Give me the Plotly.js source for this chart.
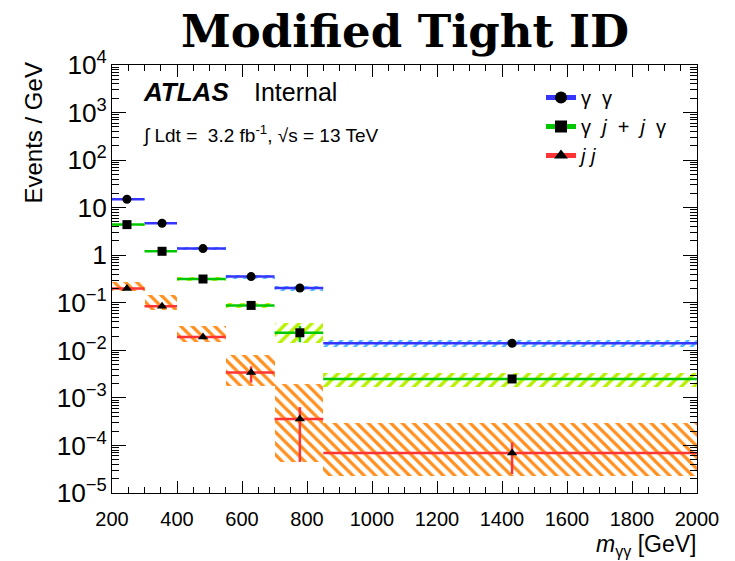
<!DOCTYPE html>
<html>
<head>
<meta charset="utf-8">
<script src="https://cdn.plot.ly/plotly-3.0.1.min.js"></script>
<style>html,body{margin:0;padding:0;background:#fff;}#chart{width:735px;height:561px;}</style>
</head>
<body>
<div id="chart"></div>
<script>
// Bin edges (GeV)
var binEdges = [200, 300, 400, 550, 700, 850, 2000];
// Marker positions (mean mass in bin)
var markerX = [246, 354, 480, 628, 778, 1431];

// gamma gamma
var ggVal = [15, 4.7, 1.38, 0.355, 0.204, 0.0141];
var ggStatUp = [0.3, 0.15, 0.06, 0.025, 0.02, 0.0013];
var ggStatDn = [0.3, 0.15, 0.06, 0.025, 0.02, 0.0013];
var ggSysLo = [14.4, 4.5, 1.3, 0.32, 0.18, 0.0118];
var ggSysHi = [15.6, 4.9, 1.46, 0.39, 0.23, 0.0168];

// gamma j + j gamma
var gjVal = [4.4, 1.21, 0.316, 0.088, 0.0234, 0.0025];
var gjStatUp = [0.15, 0.06, 0.025, 0.012, 0.009, 0.0003];
var gjStatDn = [0.15, 0.06, 0.025, 0.012, 0.0086, 0.0003];
var gjSysLo = [4.2, 1.15, 0.29, 0.077, 0.0142, 0.0017];
var gjSysHi = [4.6, 1.27, 0.345, 0.101, 0.037, 0.0034];

// j j
var jjVal = [0.2, 0.085, 0.019, 0.0034, 0.00036, 0.000069];
var jjStatUp = [0.005, 0.004, 0.001, 0.0012, 0.00028, 0.000046];
var jjStatDn = [0.005, 0.004, 0.001, 0.0013, 0.000315, 0.000044];
var jjSysLo = [0.174, 0.069, 0.0149, 0.0018, 0.000044, 0.000023];
var jjSysHi = [0.273, 0.144, 0.033, 0.0081, 0.00196, 0.0003];

var legendNames = ['\u03B3\u00A0\u00A0\u03B3',
  '\u03B3\u00A0\u00A0<i>j</i>\u00A0\u00A0+\u00A0\u00A0<i>j</i>\u00A0\u00A0\u03B3',
  '<i>j\u00A0j</i>'];

var centers = [], widths = [];
for (var i = 0; i < binEdges.length - 1; i++) {
  centers.push((binEdges[i] + binEdges[i+1]) / 2);
  widths.push(binEdges[i+1] - binEdges[i]);
}
function sub(a, b) { return a.map(function(v, i){ return v - b[i]; }); }
var exPlus = markerX.map(function(x, i){ return binEdges[i+1] - x; });
var exMinus = markerX.map(function(x, i){ return x - binEdges[i]; });

function band(lo, hi, color, shape, size, sol) {
  return {
    type: 'bar', x: centers, y: sub(hi, lo), base: lo, width: widths,
    showlegend: false, hoverinfo: 'skip',
    marker: {color: 'rgba(0,0,0,0)', line: {width: 0},
      pattern: {shape: shape, fgcolor: color, fgopacity: 1, bgcolor: 'rgba(0,0,0,0)', size: size, solidity: sol, fillmode: 'overlay'}}
  };
}
function pts(vals, up, dn, color, symbol) {
  return {
    type: 'scatter', mode: 'markers', x: markerX, y: vals, showlegend: false,
    marker: {color: 'black', symbol: symbol, size: 9},
    error_x: {type: 'data', symmetric: false, array: exPlus, arrayminus: exMinus, color: color, thickness: 2.5, width: 0},
    error_y: {type: 'data', symmetric: false, array: up, arrayminus: dn, color: color, thickness: 2.5, width: 0}
  };
}
function leg(name, color, symbol) {
  return {type: 'scatter', mode: 'lines+markers', x: [null], y: [null], name: name,
    line: {color: color, width: 2.5}, marker: {color: 'black', symbol: symbol, size: 9}};
}

var cBlue = '#3535ff', cGreen = '#00c800', cRed = '#ff3535';
var data = [
  band(ggSysLo, ggSysHi, '#4ab8ff', '/', 7, 0.4),
  band(gjSysLo, gjSysHi, '#b8f000', '/', 9, 0.38),
  band(jjSysLo, jjSysHi, '#ff9020', '\\', 8, 0.4),
  pts(ggVal, ggStatUp, ggStatDn, cBlue, 'circle'),
  pts(gjVal, gjStatUp, gjStatDn, cGreen, 'square'),
  pts(jjVal, jjStatUp, jjStatDn, cRed, 'triangle-up'),
  leg(legendNames[0], cBlue, 'circle'),
  leg(legendNames[1], cGreen, 'square'),
  leg(legendNames[2], cRed, 'triangle-up')
];

var L = 112, R = 697, T = 65, B = 493;
function px(x){ return (x - L) / (R - L); }
function py(y){ return (B - y) / (B - T); }
var font = 'Liberation Sans, Arial, Helvetica, sans-serif';

var layout = {
  width: 735, height: 561,
  margin: {l: L, r: 735 - R, t: T, b: 561 - B, pad: 0},
  paper_bgcolor: 'white', plot_bgcolor: 'white',
  barmode: 'overlay', bargap: 0,
  font: {family: font, color: 'black', size: 20},
  title: {text: '<b>Modified Tight ID</b>', font: {family: 'DejaVu Serif, serif', size: 45, color: 'black'},
    x: 0.551, xanchor: 'center', y: 0.944, yanchor: 'middle'},
  xaxis: {range: [200, 2000], showgrid: false, zeroline: false, showline: true, linecolor: 'black', linewidth: 1,
    mirror: 'allticks', ticks: 'inside', ticklen: 12, tickcolor: 'black', tick0: 200, dtick: 200, ticklabelstandoff: 8,
    tickfont: {size: 20, family: font}, minor: {ticks: 'inside', ticklen: 6, dtick: 50, tickcolor: 'black', showgrid: false}},
  yaxis: {type: 'log', range: [-5, 4], showgrid: false, zeroline: false, showline: true, linecolor: 'black', linewidth: 1,
    mirror: 'allticks', ticks: 'inside', ticklen: 14, tickcolor: 'black', dtick: 1, exponentformat: 'power',
    tickfont: {size: 21, family: font}, minor: {ticks: 'inside', ticklen: 7, dtick: 'D1', tickcolor: 'black', showgrid: false}},
  legend: {x: px(541), y: py(78), xanchor: 'left', yanchor: 'top', bgcolor: 'rgba(0,0,0,0)',
    font: {size: 20, family: font}, tracegroupgap: 0, itemsizing: 'constant'},
  annotations: [
    {xref: 'paper', yref: 'paper', x: px(141), y: py(92), xanchor: 'left', yanchor: 'middle', showarrow: false,
      text: '<b><i>ATLAS</i></b>', font: {size: 26, family: font}},
    {xref: 'paper', yref: 'paper', x: px(252), y: py(92), xanchor: 'left', yanchor: 'middle', showarrow: false,
      text: 'Internal', font: {size: 25, family: font}},
    {xref: 'paper', yref: 'paper', x: px(141), y: py(134), xanchor: 'left', yanchor: 'middle', showarrow: false,
      text: '\u222B Ldt =  3.2 fb<sup>-1</sup>, \u221As = 13 TeV', font: {size: 19, family: font}},
    {xref: 'paper', yref: 'paper', x: px(33), y: py(61), xanchor: 'center', yanchor: 'top', showarrow: false, textangle: -90,
      text: 'Events / GeV', font: {size: 24, family: font}},
    {xref: 'paper', yref: 'paper', x: px(698), y: py(562), xanchor: 'right', yanchor: 'bottom', showarrow: false,
      text: '<i>m</i><sub>\u03B3\u03B3</sub> [GeV]', font: {size: 23, family: font}}
  ]
};
Plotly.newPlot('chart', data, layout, {displayModeBar: false, staticPlot: true});
</script>
</body>
</html>
